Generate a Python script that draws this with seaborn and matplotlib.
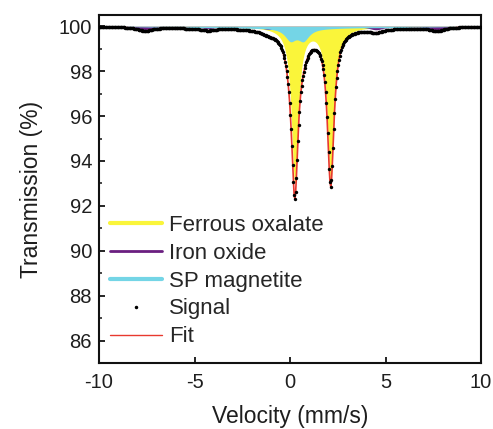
import numpy as np
import pandas as pd
import matplotlib
matplotlib.use("Agg")
import matplotlib.pyplot as plt
from matplotlib.lines import Line2D
import seaborn as sns

# Velocity channels of the spectrometer (mm/s)
n_channels = 512
v_min, v_max = -10.0, 10.0

# Fitted sub-spectra: Lorentzian line positions (mm/s), depths (% absorption), half widths (mm/s)
ferrous_centers = [0.25, 2.13]
ferrous_depths = [6.95, 6.90]
ferrous_hwhm = [0.21, 0.21]

oxide_centers = [-7.6, -4.3, -1.1, 1.4, 4.5, 7.7]
oxide_depths = [0.17, 0.10, 0.14, 0.12, 0.15, 0.17]
oxide_hwhm = [0.45, 0.45, 0.45, 0.45, 0.45, 0.45]

sp_centers = [0.02, 0.70, -5.5, -2.0, 2.0, 5.5]
sp_depths = [0.52, 0.52, 0.045, 0.045, 0.045, 0.045]
sp_hwhm = [0.36, 0.36, 2.0, 2.0, 2.0, 2.0]

baseline = 100.0


def absorption(v, centers, depths, widths):
    out = np.zeros_like(v)
    for c, d, w in zip(centers, depths, widths):
        out += d * w ** 2 / ((v - c) ** 2 + w ** 2)
    return out


velocity = np.linspace(v_min, v_max, n_channels)
a_fe = absorption(velocity, ferrous_centers, ferrous_depths, ferrous_hwhm)
a_ox = absorption(velocity, oxide_centers, oxide_depths, oxide_hwhm)
a_sp = absorption(velocity, sp_centers, sp_depths, sp_hwhm)

df = pd.DataFrame({
    "velocity": velocity,
    "ferrous": baseline - a_fe,
    "oxide": baseline - a_ox,
    "sp": baseline - a_sp,
    "fit": baseline - a_fe - a_ox - a_sp,
})
df["signal"] = df["fit"]

yellow = "#FAF53A"
purple = "#6A1E80"
cyan = "#74D5E6"
red = "#E8392F"
ink = "#1E1E1E"

sns.set_theme(style="ticks")
plt.rcParams["font.family"] = ["Liberation Sans", "DejaVu Sans"]
plt.rcParams["axes.unicode_minus"] = False

fig = plt.figure(figsize=(4.93, 4.29), dpi=100)
ax = fig.add_axes([0.2008, 0.1538, 0.7749, 0.8112])

ax.fill_between(df["velocity"], baseline, df["ferrous"], color=yellow, lw=0, zorder=1)
ax.fill_between(df["velocity"], baseline, df["oxide"], color=purple, lw=0, zorder=2)
ax.fill_between(df["velocity"], baseline, df["sp"], color=cyan, lw=0, zorder=3)

sns.lineplot(data=df, x="velocity", y="fit", ax=ax, color=red, lw=1.2,
             zorder=4, legend=False)
sns.scatterplot(data=df, x="velocity", y="signal", ax=ax, color="black",
                s=6, linewidth=0, zorder=5, legend=False)

ax.set_xlim(-10, 10)
ax.set_ylim(85, 100.5)
ax.set_xticks([-10, -5, 0, 5, 10])
ax.set_yticks(np.arange(86, 101, 2))
ax.set_yticks(np.arange(87, 101, 2), minor=True)
ax.tick_params(axis="both", which="major", direction="in", length=4, width=1.2,
               labelsize=14.5, color="black", labelcolor=ink, pad=5)
ax.tick_params(axis="x", which="major", pad=7)
ax.tick_params(axis="y", which="minor", direction="in", length=2.5, width=1.2)
for s in ax.spines.values():
    s.set_linewidth(1.5)
    s.set_color("#111111")

ax.set_xlabel("Velocity (mm/s)", fontsize=16.5, color=ink, labelpad=9.5)
ax.set_ylabel("Transmission (%)", fontsize=16.5, color=ink, labelpad=11)

handles = [
    Line2D([], [], color=yellow, lw=3.0),
    Line2D([], [], color=purple, lw=2.0),
    Line2D([], [], color=cyan, lw=3.0),
    Line2D([], [], color="black", marker=".", ms=3, lw=0),
    Line2D([], [], color=red, lw=1.0),
]
labels = ["Ferrous oxalate", "Iron oxide", "SP magnetite", "Signal", "Fit"]
ax.legend(handles, labels, loc="lower left", bbox_to_anchor=(0.03, 0.045),
          frameon=False, fontsize=16, handlelength=2.3, handletextpad=0.33,
          labelspacing=0.31, borderpad=0, borderaxespad=0)

fig.savefig("out.png", dpi=100)
